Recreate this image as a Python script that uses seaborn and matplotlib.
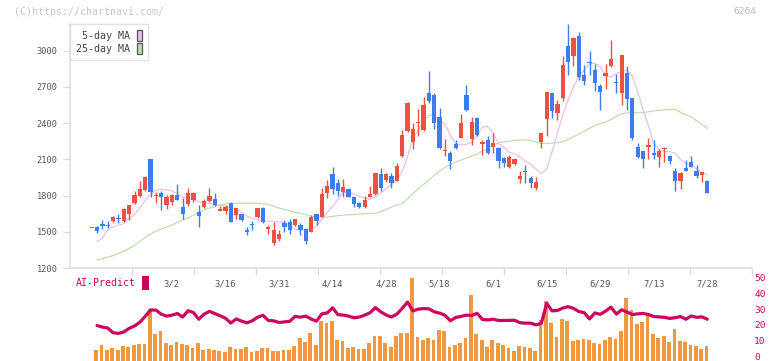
import numpy as np
import pandas as pd
import matplotlib
matplotlib.use("Agg")
import matplotlib.pyplot as plt
import seaborn as sns
from matplotlib.patches import Patch, Rectangle

# ---------------- data ----------------
opens = [1530,1537,1565,1558,1590,1617,1590,1650,1740,1797,1850,2100,1800,1825,1725,1750,1805,1705,1730,1760,
         1667,1708,1758,1770,1675,1672,1742,1640,1645,1515,1558,1622,1695,1527,1405,1438,1570,1580,1556,1556,
         1523,1501,1645,1625,1825,1979,1907,1833,1852,1791,1736,1708,1786,1813,1976,1929,1962,1923,2128,2335,
         2246,2400,2344,2653,2634,2454,2170,2150,2231,2280,2634,2269,2441,2226,2261,2200,2197,2114,2040,2062,
         1938,2007,1949,1866,2247,2435,2648,2487,2611,3041,2953,3123,2800,2903,2842,2708,2794,2874,2735,2648,
         2815,2608,2200,2172,2200,2153,2123,2183,2128,2007,1923,2032,2078,2007,1971,1923]
highs = [1530,1552,1600,1590,1630,1645,1700,1725,1835,1920,1965,2100,1832,1835,1805,1815,1895,1780,1860,1830,
         1722,1775,1860,1825,1710,1720,1750,1700,1650,1540,1592,1700,1705,1556,1580,1515,1598,1605,1610,1570,
         1530,1640,1650,1865,1929,2040,1940,1938,1860,1795,1745,1797,1880,1990,2032,1985,1985,2070,2344,2575,
         2398,2515,2614,2833,2650,2530,2268,2172,2260,2477,2717,2449,2450,2262,2290,2320,2200,2120,2140,2115,
         2007,2054,1965,1957,2321,2656,2648,2592,2960,3222,3118,3153,2883,3000,2890,2722,2890,3089,2808,2965,
         2874,2610,2238,2172,2280,2261,2183,2205,2135,2032,1998,2095,2128,2054,1998,1930]
lows = [1530,1490,1520,1535,1585,1570,1585,1600,1730,1790,1840,1790,1740,1680,1690,1720,1760,1605,1710,1750,
        1542,1700,1750,1715,1675,1650,1580,1610,1590,1475,1515,1615,1575,1482,1390,1420,1495,1480,1550,1470,
        1400,1495,1556,1620,1780,1813,1800,1790,1785,1708,1700,1700,1786,1805,1841,1910,1860,1920,2120,2325,
        2183,2294,2339,2565,2350,2190,2124,2018,2190,2275,2500,2218,2295,2137,2145,2155,2026,2040,2030,2050,
        1907,1907,1866,1846,2197,2296,2446,2427,2584,2800,2878,2758,2717,2796,2663,2509,2685,2868,2654,2551,
        2509,2261,2109,2032,2103,2103,2040,2081,2065,1838,1855,2007,2035,1943,1915,1825]
closes = [1530,1510,1552,1550,1625,1604,1686,1722,1805,1852,1957,1832,1805,1792,1790,1805,1760,1650,1820,1825,
          1631,1753,1797,1720,1690,1703,1585,1695,1598,1497,1555,1695,1584,1530,1515,1482,1537,1515,1604,1515,
          1420,1620,1592,1813,1880,1852,1835,1874,1791,1730,1708,1763,1813,1985,1860,1976,1907,2044,2302,2570,
          2351,2405,2551,2587,2399,2197,2174,2089,2198,2399,2509,2413,2302,2247,2150,2233,2089,2073,2123,2103,
          1965,1995,1907,1915,2321,2656,2501,2556,2880,2910,3110,2786,2752,2895,2732,2661,2815,2929,2730,2965,
          2602,2275,2117,2103,2219,2136,2169,2188,2089,1923,1990,2007,2040,1960,1998,1825]

# moving averages, AI-predict line and bars: from the 2nd candle to the last
ma5 = [1420,1445,1520,1540,1555,1568,1610,1643,1700,1760,
       1810,1845,1852,1846,1838,1815,1786,1775,1766,1750,
       1744,1736,1722,1720,1710,1703,1690,1660,1630,1610,
       1598,1592,1588,1584,1580,1576,1545,1525,1515,1520,
       1529,1545,1600,1660,1710,1765,1825,1825,1815,1795,
       1780,1770,1790,1820,1855,1895,1929,2000,2120,2280,
       2340,2420,2468,2456,2430,2390,2300,2230,2219,2225,
       2240,2300,2370,2370,2320,2230,2200,2160,2145,2120,
       2085,2060,2020,1985,2018,2164,2316,2470,2590,2700,
       2790,2842,2893,2896,2870,2790,2782,2812,2827,2841,
       2790,2660,2515,2380,2233,2180,2166,2164,2152,2100,
       2068,2054,2020,1990,1971]
ma25 = [1266,1278,1290,1303,1320,1340,1362,1390,1420,1455,
        1480,1505,1525,1540,1556,1578,1598,1615,1638,1660,
        1683,1697,1710,1722,1730,1735,1736,1736,1736,1736,
        1736,1732,1728,1712,1697,1685,1675,1662,1653,1642,
        1630,1624,1620,1622,1628,1634,1638,1641,1644,1647,
        1649,1651,1653,1668,1685,1705,1720,1733,1775,1818,
        1855,1893,1930,1970,2000,2035,2058,2078,2095,2110,
        2128,2145,2170,2195,2220,2237,2245,2250,2258,2261,
        2260,2258,2245,2233,2232,2235,2240,2247,2265,2288,
        2310,2335,2358,2380,2396,2410,2430,2455,2478,2486,
        2487,2487,2487,2495,2502,2506,2510,2514,2515,2490,
        2470,2452,2420,2390,2358]
ai_predict = [19.6,18.6,18.0,15.0,14.6,15.5,17.8,19.3,21.7,25.4,
              29.5,29.4,26.8,25.6,26.2,27.2,25.0,29.0,27.9,23.6,
              26.8,28.6,27.2,25.8,24.2,21.2,23.8,22.4,21.3,22.6,
              24.9,26.1,22.8,22.6,21.5,21.9,22.3,25.4,24.9,25.6,
              23.7,22.4,27.0,27.6,30.9,26.5,26.2,25.6,24.5,25.0,
              26.2,27.7,31.0,28.3,26.3,25.0,26.8,30.5,34.5,28.9,
              30.0,30.4,30.2,28.3,27.5,26.1,22.6,24.7,25.4,26.2,
              26.0,27.4,23.4,23.2,23.6,22.8,22.8,22.9,22.9,21.4,
              21.1,21.1,20.0,21.0,33.7,28.9,29.2,30.7,31.6,30.5,
              28.5,27.8,23.8,27.6,26.7,28.8,31.3,26.9,29.6,28.2,
              26.6,27.0,27.3,26.6,25.3,25.1,24.8,24.1,24.6,25.3,
              23.6,25.7,24.8,25.1,23.6]
bar_values = [4.0,7.2,4.0,5.1,3.8,6.5,6.1,7.2,7.8,7.8,
              30.2,14.1,16.0,8.4,7.2,9.0,7.6,7.2,5.3,8.4,
              4.2,4.6,4.2,3.4,2.6,5.8,4.4,4.6,5.9,2.7,
              3.5,5.3,5.3,3.4,3.4,4.1,4.1,6.5,11.6,9.0,
              14.7,7.2,22.2,21.0,22.2,10.3,9.7,5.3,5.9,4.6,
              4.6,8.4,12.8,12.9,8.4,5.9,12.8,14.7,14.7,49.6,
              12.2,10.3,11.6,10.3,16.6,16.0,5.9,7.2,8.4,11.6,
              38.8,14.1,10.3,5.9,10.3,8.4,7.2,5.3,3.4,6.5,
              5.9,5.0,3.4,23.2,35.1,21.1,12.3,23.7,22.4,9.8,
              10.4,11.0,10.4,8.4,7.8,10.1,12.1,10.9,16.1,36.9,
              29.3,20.4,21.8,25.6,14.1,11.6,13.0,9.3,17.3,9.9,
              8.9,7.2,6.7,4.6,6.7]

date_labels = ["3/2", "3/16", "3/31", "4/14", "4/28", "5/18", "6/1", "6/15", "6/29", "7/13", "7/28"]
date_label_index = [15, 25, 35, 45, 55, 65, 75, 85, 95, 105, 115]
price_ticks = [1200, 1500, 1800, 2100, 2400, 2700, 3000]
predict_ticks = [0, 10, 20, 30, 40, 50]

# ---------------- style ----------------
sns.set_theme(style="white")
plt.rcParams["font.family"] = ["DejaVu Sans Mono", "DejaVu Sans"]

RED = "#EF5140"
BLUE = "#3F7CEE"
PINK = "#EBBDEB"
GREEN = "#BEDDAE"
ORANGE = "#F0983F"
CRIMSON = "#CC0660"
SPINE = "#dcdcdc"

W, H = 772, 361
fig = plt.figure(figsize=(W / 100, H / 100), dpi=100)

df = pd.DataFrame({"open": opens, "high": highs, "low": lows, "close": closes})
df["idx"] = np.arange(len(df))
df["color"] = np.where(df["close"] >= df["open"], RED, BLUE)

sub = pd.DataFrame({"idx": np.arange(1, len(df)),
                    "ma5": ma5, "ma25": ma25, "ai": ai_predict, "bar": bar_values})

# ---------------- main price axes ----------------
ax = fig.add_axes([70 / W, 1 - 268 / H, 682 / W, 244 / H])
x0, x1 = -4.05, 123.35
ax.set_xlim(x0, x1)
ax.set_ylim(1200, 3222)

sns.lineplot(data=sub, x="idx", y="ma25", ax=ax, color=GREEN, linewidth=0.85, legend=False, zorder=2)
sns.lineplot(data=sub, x="idx", y="ma5", ax=ax, color=PINK, linewidth=0.85, legend=False, zorder=2)

ax.vlines(df["idx"], df["low"], df["high"], colors=df["color"], linewidth=1.0, zorder=3)
body_low = np.minimum(df["open"], df["close"])
body_h = np.maximum(np.abs(df["close"] - df["open"]), 9)
ax.bar(df["idx"], body_h, bottom=body_low, width=0.8, color=df["color"], linewidth=0, zorder=4)

for s in ["top", "right"]:
    ax.spines[s].set_visible(False)
for s in ["left", "bottom"]:
    ax.spines[s].set_color(SPINE)
    ax.spines[s].set_linewidth(1.1)

ax.set_yticks(price_ticks)
ax.set_yticklabels([str(v) for v in price_ticks])
ax.tick_params(axis="y", which="major", length=5, width=1, color=SPINE, pad=4,
               labelsize=6.2, labelcolor="#555555", left=True)
ax.set_xticks(date_label_index)
ax.set_xticklabels(date_labels)
ax.tick_params(axis="x", which="major", length=0, pad=8, labelsize=6.4, labelcolor="#555555")
ax.set_xticks(np.linspace(x0, x1, 12)[1:], minor=True)
ax.tick_params(axis="x", which="minor", length=5, width=1, color=SPINE, bottom=True, direction="out")
ax.set_xlabel("")
ax.set_ylabel("")
ax.grid(False)

handles = [Patch(facecolor=PINK, edgecolor="#555555", linewidth=0.9, label="5-day MA"),
           Patch(facecolor=GREEN, edgecolor="#555555", linewidth=0.9, label="25-day MA")]
leg = ax.legend(handles=handles, loc="upper left", bbox_to_anchor=(0, 1), markerfirst=False,
                frameon=True, fancybox=False, edgecolor=SPINE, fontsize=7.2,
                handlelength=0.55, handleheight=1.45, handletextpad=0.7, borderpad=0.55,
                labelspacing=0.12, borderaxespad=0)
leg.get_frame().set_linewidth(1.0)
for t in leg.get_texts():
    t.set_color("#444444")

# ---------------- AI-predict axes ----------------
ax2 = fig.add_axes([70 / W, 2 / H, 682 / W, 83 / H], sharex=ax)
ax2.set_ylim(-1.7, 51.1)
ax2.bar(sub["idx"] - 0.15, sub["bar"] + 3.5, bottom=-3.5, width=0.7, color=ORANGE,
        linewidth=0, zorder=2, clip_on=False)
sns.lineplot(data=sub, x="idx", y="ai", ax=ax2, color=CRIMSON, linewidth=2.3, legend=False, zorder=3)
for s in ax2.spines.values():
    s.set_visible(False)
ax2.set_facecolor("none")
ax2.yaxis.tick_right()
ax2.set_yticks(predict_ticks)
ax2.set_yticklabels([str(v) for v in predict_ticks])
ax2.tick_params(axis="y", length=0, pad=1.5, labelsize=6.8, labelcolor=CRIMSON, right=True, left=False)
ax2.tick_params(axis="x", which="both", length=0, labelbottom=False, bottom=False)
ax2.set_xlabel("")
ax2.set_ylabel("")
ax2.grid(False)

# ---------------- texts ----------------
fig.text(14 / W, 1 - 12 / H, "(C)https://chartnavi.com/", color="#c8c8c8", fontsize=7.1,
         va="center", ha="left")
fig.text(756 / W, 1 - 12 / H, "6264", color="#bbbbbb", fontsize=6.8, va="center", ha="right")
fig.text(76 / W, 1 - 283 / H, "AI-Predict", color=CRIMSON, fontsize=7.1, va="center", ha="left")
fig.add_artist(Rectangle((142 / W, 1 - 290 / H), 7 / W, 14 / H, transform=fig.transFigure,
                         facecolor=CRIMSON, edgecolor="none"))

fig.savefig("out.png", dpi=100)
